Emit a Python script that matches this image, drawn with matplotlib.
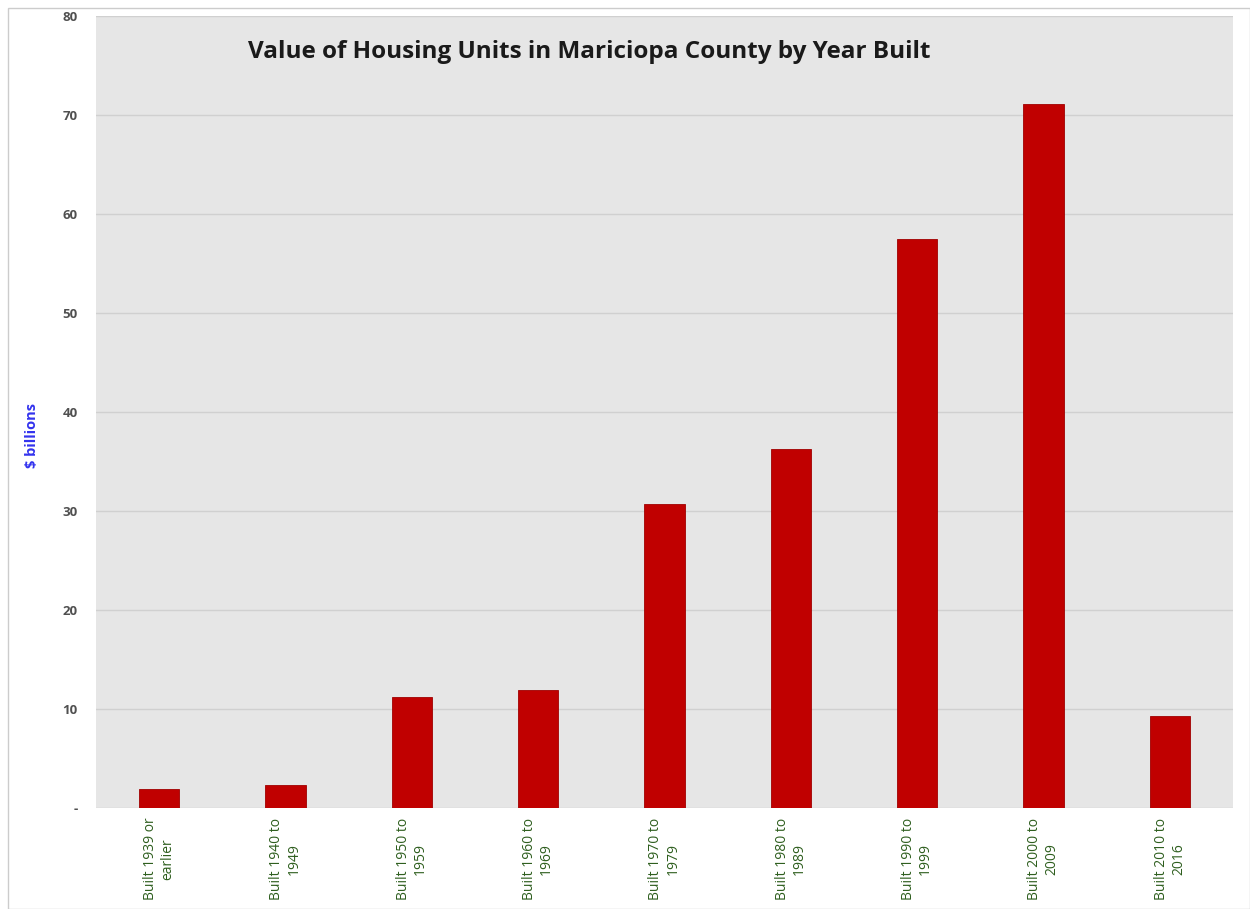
import matplotlib.pyplot as plt
from matplotlib.patches import Rectangle

categories = ["Built 1939 or\nearlier", "Built 1940 to\n1949", "Built 1950 to\n1959",
              "Built 1960 to\n1969", "Built 1970 to\n1979", "Built 1980 to\n1989",
              "Built 1990 to\n1999", "Built 2000 to\n2009", "Built 2010 to\n2016"]
values = [1.9, 2.3, 11.2, 11.9, 30.7, 36.3, 57.5, 71.1, 9.3]
yticks = [0, 10, 20, 30, 40, 50, 60, 70, 80]
ytick_labels = ["-", "10", "20", "30", "40", "50", "60", "70", "80"]

plt.rcParams['font.family'] = ['Open Sans', 'DejaVu Sans']

fig = plt.figure(figsize=(12.5, 9.09), dpi=100)
ax = fig.add_axes([0.0768, 0.111, 0.9096, 0.8714])
ax.set_facecolor('#e6e6e6')

x = range(len(categories))
ax.bar(x, values, width=0.32, color='#c00000', edgecolor='#a00000', linewidth=0.6, zorder=3)

ax.set_xlim(-0.5, len(categories) - 0.5)
ax.set_ylim(0, 80)
ax.set_yticks(yticks)
ax.set_yticklabels(ytick_labels, fontsize=9.5, color='#505050', fontweight='bold')
ax.set_xticks(list(x))
ax.set_xticklabels(categories, rotation=90, fontsize=10, color='#2e5e1e',
                   ha='center', va='top', multialignment='center')
ax.tick_params(axis='y', length=0, pad=13)
ax.tick_params(axis='x', length=0, pad=7)
ax.grid(axis='y', color='#d0d0d0', linewidth=1, zorder=0)
for s in ax.spines.values():
    s.set_visible(False)

ax.set_ylabel("$ billions", color='#3333ee', fontsize=10.5, fontweight='bold')
ax.yaxis.set_label_coords(-0.05, 0.47)

ax.text(0.434, 0.955, "Value of Housing Units in Mariciopa County by Year Built",
        transform=ax.transAxes, ha='center', va='center', fontsize=17.5, fontweight='bold',
        color='#1a1a1a')

# thin outer border like the source image
fig.patches.append(Rectangle((0.006, 0.0), 0.994, 0.991, transform=fig.transFigure,
                             fill=False, edgecolor='#cccccc', linewidth=1))

plt.savefig("out.png", dpi=100)
plt.close()
